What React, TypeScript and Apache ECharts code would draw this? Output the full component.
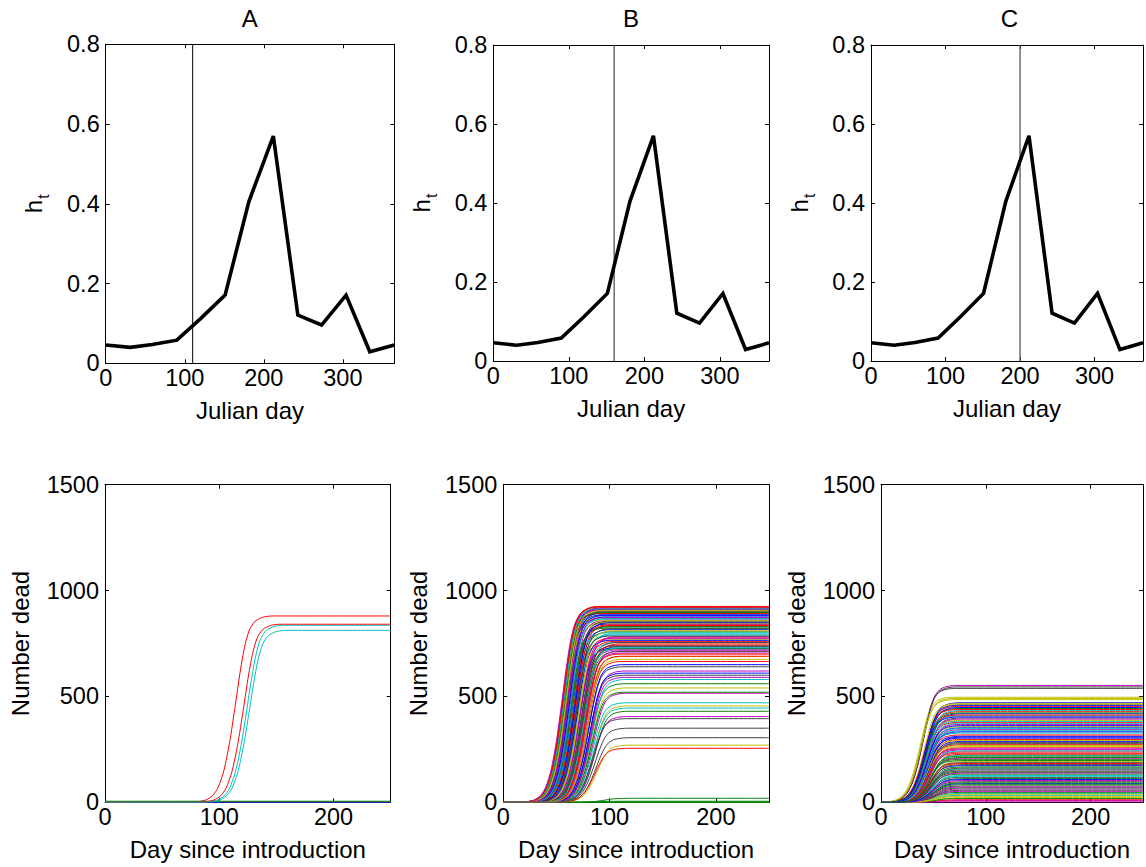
import React, { useEffect, useRef } from 'react';
import * as echarts from 'echarts';

const FONT = '"Liberation Sans", Arial, Helvetica, sans-serif';

// ---------- Top row: seasonal hazard h_t ----------
const monthDays = [0, 31, 59, 90, 120, 151, 181, 212, 243, 273, 304, 334, 365];
const hValues = [0.046, 0.040, 0.047, 0.058, 0.112, 0.171, 0.405, 0.570, 0.121, 0.096, 0.171, 0.029, 0.046];
const introDays = [110, 160, 200];
const panelTitles = ['A', 'B', 'C'];
const topXTicks = [0, 100, 200, 300];
const topYTicks = [0, 0.2, 0.4, 0.6, 0.8];
const botXTicks = [0, 100, 200];
const botYTicks = [0, 500, 1000, 1500];

// ---------- Bottom row: cumulative deaths per simulation ----------
// shared rise shape: day offset from mid-rise, fraction of final toll
const riseOffsets = [-40, -32, -26, -20, -15, -10, -5, 0, 4, 8, 12, 17, 24, 32];
const riseFractions = [0, 0.004, 0.012, 0.035, 0.08, 0.17, 0.32, 0.52, 0.69, 0.83, 0.92, 0.97, 0.993, 1];

const aFinal = [0, 0, 880, 836, 0, 2, 0, 0, 5, 841, 812];
const aMid = [0, 0, 114, 124, 0, 0, 0, 0, 0, 121, 126];

const bFinal = [
  918, 0, 742, 865, 905, 688, 830, 912, 560, 776,
  895, 720, 850, 640, 921, 805, 760, 880, 515, 900,
  735, 842, 19, 910, 790, 705, 870, 600, 815, 5,
  925, 755, 860, 455, 890, 728, 822, 665, 915, 782,
  845, 350, 898, 712, 835, 580, 908, 768, 855, 885,
  0, 748, 800, 620, 920, 738, 875, 430, 892, 795,
  715, 540, 903, 765, 828, 690, 913, 775, 858, 305,
  883, 725, 838, 470, 918, 810, 755, 650, 896, 700,
  868, 405, 905, 785, 848, 520, 922, 730, 872, 270,
  820, 610, 0, 255, 445, 590, 675, 395,
];
const bMid = [
  57, 0, 74, 60, 56, 78, 66, 58, 82, 70,
  59, 75, 62, 80, 56, 68, 72, 61, 84, 63,
  76, 65, 95, 60, 69, 77, 58, 81, 67, 90,
  57, 73, 64, 85, 57, 71, 63, 79, 59, 74,
  61, 86, 62, 76, 68, 83, 55, 71, 66, 60,
  0, 77, 65, 82, 58, 73, 63, 86, 56, 70,
  78, 83, 61, 69, 64, 79, 57, 72, 59, 87,
  62, 74, 66, 84, 60, 71, 75, 80, 58, 77,
  63, 85, 59, 68, 67, 83, 56, 76, 61, 88,
  69, 81, 0, 86, 85, 82, 79, 84,
];

const cFinal = [
  312, 47, 428, 158, 8, 263, 398, 88, 203, 453,
  127, 343, 22, 283, 470, 112, 238, 373, 63, 192,
  538, 418, 142, 297, 33, 248, 387, 97, 173, 443,
  12, 327, 208, 466, 77, 352, 133, 272, 408, 52,
  485, 187, 303, 18, 227, 433, 103, 357, 162, 288,
  68, 412, 243, 2, 462, 118, 333, 197, 378, 42,
  552, 268, 147, 448, 83, 318, 222, 393, 28, 178,
  403, 92, 257, 348, 138, 496, 57, 308, 212, 438,
  123, 368, 38, 277, 458, 167, 232, 382, 72, 292,
  545, 108, 422, 183, 338, 252, 490, 153, 362, 218,
];
const cMid = [
  45, 51, 43, 48, 53, 47, 44, 50, 46, 42,
  49, 45, 52, 47, 43, 50, 46, 44, 51, 48,
  39, 44, 48, 46, 52, 47, 43, 49, 47, 42,
  53, 44, 47, 41, 50, 45, 48, 46, 43, 51,
  38, 47, 45, 52, 48, 43, 50, 44, 49, 46,
  51, 42, 47, 54, 42, 49, 45, 46, 43, 52,
  40, 46, 48, 43, 50, 44, 47, 44, 52, 48,
  42, 50, 46, 44, 49, 37, 51, 46, 47, 41,
  49, 44, 52, 45, 42, 48, 46, 43, 50, 45,
  40, 49, 43, 47, 45, 46, 38, 48, 44, 47,
];

const matlabColors = ['#0000FF', '#008000', '#FF0000', '#00BFBF', '#BF00BF', '#BFBF00', '#404040'];

const topGrids = [
  { left: 105.7, top: 44.3, width: 288.6, height: 319 },
  { left: 493.3, top: 45, width: 275.7, height: 316 },
  { left: 871, top: 45, width: 275.7, height: 316 },
];
const botGrids = [
  { left: 105, top: 484.7, width: 285.7, height: 317.6 },
  { left: 503.3, top: 484.7, width: 265.7, height: 317.6 },
  { left: 881, top: 484.7, width: 265.5, height: 317.6 },
];

const LABEL_SIZE = 23.5;
const NAME_SIZE = 24;
const TITLE_SIZE = 24;

function tickFormatter(ticks: number[]) {
  return (v: number) => {
    const r = Math.round(v * 1000) / 1000;
    return ticks.indexOf(r) >= 0 ? String(r) : '';
  };
}

function makeAxes(gridIndex: number, isX: boolean, min: number, max: number, interval: number, ticks: number[], name: any, nameGap: number, nameStyle: any) {
  const common = {
    type: 'value',
    gridIndex,
    min,
    max,
    interval,
    splitLine: { show: false },
    axisLine: { show: true, onZero: false, lineStyle: { color: '#000', width: 1 } },
    axisTick: { show: true, inside: true, length: 4, lineStyle: { color: '#000', width: 1 } },
  };
  const main = {
    ...common,
    position: isX ? 'bottom' : 'left',
    axisLabel: {
      show: true,
      color: '#000',
      fontSize: LABEL_SIZE,
      fontFamily: FONT,
      margin: isX ? 3 : 6,
      formatter: tickFormatter(ticks),
    },
    name,
    nameLocation: 'middle',
    nameGap,
    nameTextStyle: nameStyle,
  };
  const mirror = {
    ...common,
    position: isX ? 'top' : 'right',
    axisLabel: { show: false },
  };
  return [main, mirror];
}

function curveData(finalVal: number, mid: number) {
  if (mid <= 0) return [[0, finalVal], [250, finalVal]];
  const pts: number[][] = [[0, 0]];
  riseOffsets.forEach((o, k) => {
    const x = mid + o;
    if (x > 0 && x < 250) pts.push([x, finalVal * riseFractions[k]]);
  });
  pts.push([250, finalVal]);
  return pts;
}

function buildOption() {
  const grids: any[] = [];
  const xAxes: any[] = [];
  const yAxes: any[] = [];
  const series: any[] = [];

  const nameStyle = { color: '#000', fontSize: NAME_SIZE, fontFamily: FONT };
  const hName = '{h|h}{t|t}';
  const hNameStyle = {
    color: '#000',
    fontFamily: FONT,
    rich: {
      h: { fontSize: NAME_SIZE, fontFamily: FONT, color: '#000' },
      t: { fontSize: 16, fontFamily: FONT, color: '#000', padding: [20, 0, 0, 1] },
    },
  };

  const titles = topGrids.map((g, i) => ({
    text: panelTitles[i],
    left: g.left + g.width / 2 - TITLE_SIZE * 0.34,
    top: 6,
    padding: 0,
    textStyle: { fontSize: TITLE_SIZE, fontWeight: 'normal', fontFamily: FONT, color: '#000' },
  }));

  topGrids.forEach((g, i) => {
    const gi = grids.length;
    grids.push({ ...g, containLabel: false });
    xAxes.push(...makeAxes(gi, true, 0, 365, 100, topXTicks, 'Julian day', 35, nameStyle));
    yAxes.push(...makeAxes(gi, false, 0, 0.8, 0.2, topYTicks, hName, 54, hNameStyle));
    series.push({
      type: 'line',
      xAxisIndex: gi * 2,
      yAxisIndex: gi * 2,
      data: [[introDays[i], 0], [introDays[i], 0.8]],
      symbol: 'none',
      silent: true,
      lineStyle: { color: i === 0 ? '#000' : '#555', width: i === 0 ? 1 : 1.3 },
    });
    series.push({
      type: 'line',
      xAxisIndex: gi * 2,
      yAxisIndex: gi * 2,
      data: monthDays.map((d, k) => [d, hValues[k]]),
      symbol: 'none',
      silent: true,
      lineStyle: { color: '#000', width: 3.6, join: 'miter' },
    });
  });

  const finals = [aFinal, bFinal, cFinal];
  const mids = [aMid, bMid, cMid];
  botGrids.forEach((g, i) => {
    const gi = grids.length;
    grids.push({ ...g, containLabel: false });
    xAxes.push(...makeAxes(gi, true, 0, 250, 100, botXTicks, 'Day since introduction', 35, nameStyle));
    yAxes.push(...makeAxes(gi, false, 0, 1500, 500, botYTicks, 'Number dead', 73, nameStyle));
    finals[i].forEach((f, k) => {
      series.push({
        type: 'line',
        xAxisIndex: gi * 2,
        yAxisIndex: gi * 2,
        data: curveData(f, mids[i][k]),
        symbol: 'none',
        silent: true,
        smooth: 0.25,
        lineStyle: { color: matlabColors[k % matlabColors.length], width: 1 },
      });
    });
  });

  return {
    animation: false,
    backgroundColor: '#fff',
    title: titles,
    grid: grids,
    xAxis: xAxes,
    yAxis: yAxes,
    series,
  };
}

export default function App() {
  const ref = useRef<HTMLDivElement>(null);
  useEffect(() => {
    if (!ref.current) return;
    const chart = echarts.init(ref.current, undefined, { renderer: 'svg' });
    chart.setOption(buildOption() as any);
    return () => chart.dispose();
  }, []);
  return (
    <div
      ref={ref}
      style={{ position: 'absolute', left: 0, top: 0, width: 1146, height: 867, background: '#fff' }}
    />
  );
}
